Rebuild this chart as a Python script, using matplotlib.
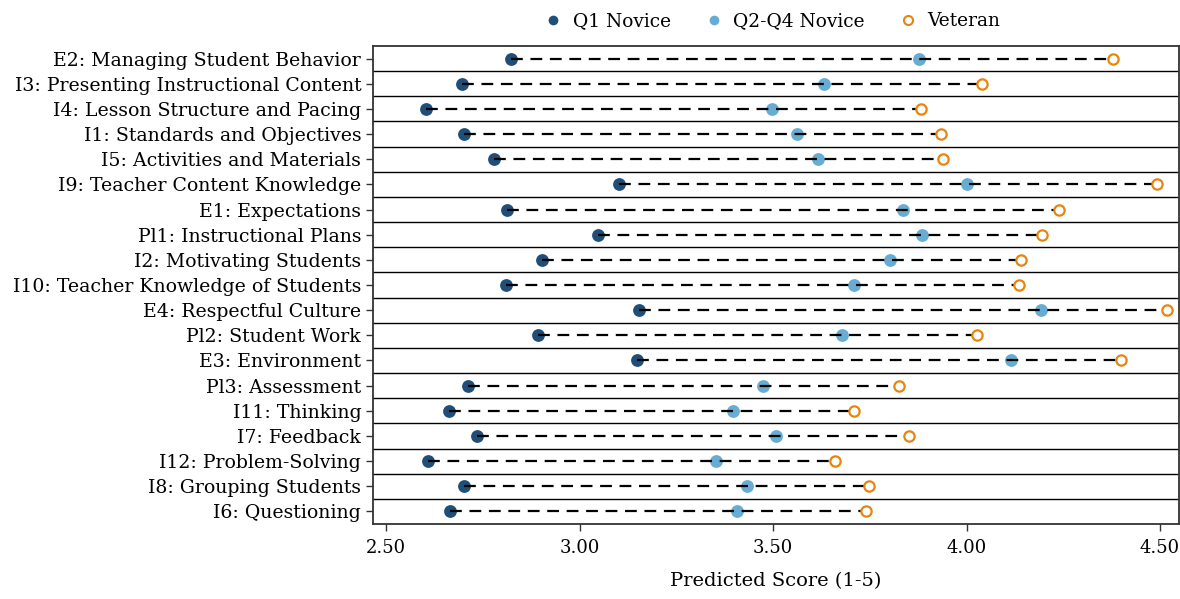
import numpy as np
import matplotlib
matplotlib.use('Agg')
import matplotlib.pyplot as plt
from matplotlib.lines import Line2D

plt.rcParams['font.family'] = ['DejaVu Serif']
plt.rcParams['lines.scale_dashes'] = False

# %% data (top row first)
categories = [
  "E2: Managing Student Behavior",
  "I3: Presenting Instructional Content",
  "I4: Lesson Structure and Pacing",
  "I1: Standards and Objectives",
  "I5: Activities and Materials",
  "I9: Teacher Content Knowledge",
  "E1: Expectations",
  "Pl1: Instructional Plans",
  "I2: Motivating Students",
  "I10: Teacher Knowledge of Students",
  "E4: Respectful Culture",
  "Pl2: Student Work",
  "E3: Environment",
  "Pl3: Assessment",
  "I11: Thinking",
  "I7: Feedback",
  "I12: Problem-Solving",
  "I8: Grouping Students",
  "I6: Questioning",
]
q1_novice = [2.822, 2.695, 2.603, 2.702, 2.780, 3.101, 2.812, 3.048, 2.903, 2.810,
             3.154, 2.892, 3.148, 2.712, 2.662, 2.734, 2.608, 2.701, 2.664]
q2q4_novice = [3.877, 3.632, 3.497, 3.561, 3.617, 4.000, 3.835, 3.884, 3.803, 3.708,
               4.193, 3.678, 4.115, 3.475, 3.396, 3.507, 3.353, 3.432, 3.406]
veteran = [4.378, 4.040, 3.882, 3.934, 3.938, 4.491, 4.238, 4.195, 4.140, 4.136,
           4.518, 4.027, 4.398, 3.826, 3.709, 3.851, 3.660, 3.748, 3.740]
xticks = [2.50, 3.00, 3.50, 4.00, 4.50]

C_Q1 = '#1f4e79'
C_Q2 = '#67acd3'
C_VET = '#e8850c'

# %%
fig = plt.figure(figsize=(11.8, 5.99), dpi=100)
ax = fig.add_axes([373 / 1180, 1 - 524 / 599, (1179 - 373) / 1180, (524 - 46) / 599])

n = len(categories)
y = np.arange(n)[::-1]

# dashed connector from Q1 novice to veteran, drawn over the filled dots
for yi, a, b in zip(y, q1_novice, veteran):
  ax.plot([a, b], [yi, yi], color='black', lw=1.6, dashes=(8.5, 5.5), zorder=3)

ax.scatter(q1_novice, y, s=85, color=C_Q1, zorder=2, linewidths=0)
ax.scatter(q2q4_novice, y, s=85, color=C_Q2, zorder=2, linewidths=0)
ax.scatter(veteran, y, s=55, facecolor='white', edgecolor=C_VET, linewidths=1.6, zorder=4)

for yb in np.arange(n - 1) + 0.5:
  ax.axhline(yb, color='black', lw=1.0, zorder=1)

ax.set_xlim(2.466, 4.549)
ax.set_ylim(-0.5, n - 0.5)
ax.set_yticks(y)
ax.set_yticklabels(categories, fontsize=13.6)
ax.set_xticks(xticks)
ax.set_xticklabels([f"{t:.2f}" for t in xticks], fontsize=13)
ax.tick_params(axis='both', direction='out', length=5, width=1.0, color='#333333')
ax.tick_params(axis='x', pad=6)
for sp in ax.spines.values():
  sp.set_linewidth(1.3)
  sp.set_color('#333333')

ax.set_xlabel("Predicted Score (1-5)", fontsize=14, labelpad=11)

handles = [
  Line2D([], [], marker='o', ls='none', color=C_Q1, markersize=7, markeredgewidth=0),
  Line2D([], [], marker='o', ls='none', color=C_Q2, markersize=7, markeredgewidth=0),
  Line2D([], [], marker='o', ls='none', markerfacecolor='white', markeredgecolor=C_VET,
         markersize=6.5, markeredgewidth=1.5),
]
ax.legend(handles, ["Q1 Novice", "Q2-Q4 Novice", "Veteran"], loc='lower center',
          bbox_to_anchor=(0.493, 1.0), ncol=3, frameon=False, fontsize=13.4,
          handlelength=1.4, handletextpad=0.35, columnspacing=1.6, borderaxespad=0.45)

fig.savefig('out.png', dpi=100)
